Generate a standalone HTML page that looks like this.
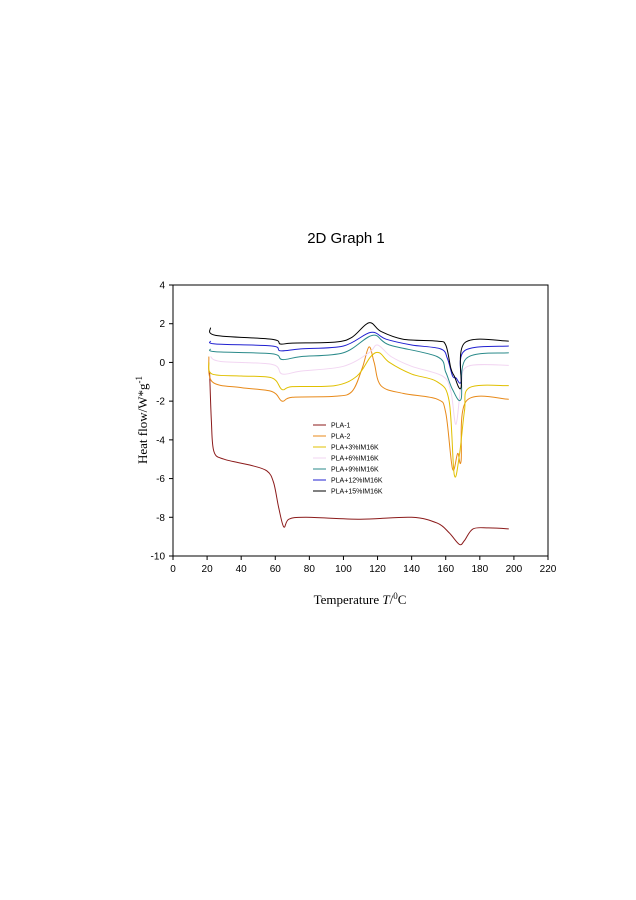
<!DOCTYPE html>
<html><head><meta charset="utf-8"><style>
html,body{margin:0;padding:0;background:#fff;}
svg{display:block;font-family:"Liberation Sans",sans-serif;}
</style></head><body>
<svg id="chart" width="636" height="900">
<text x="346" y="243" font-size="15" text-anchor="middle">2D Graph 1</text>
<rect x="173" y="285" width="375" height="271" fill="none" stroke="#000" stroke-width="1"/>
<g id="axes"></g>
<g id="series"></g>
<g id="legend"></g>
<text transform="translate(147,420) rotate(-90)" font-family="Liberation Serif,serif" font-size="13" text-anchor="middle">Heat flow/W*g<tspan dy="-5" font-size="9">-1</tspan></text>
<text x="360" y="604" font-family="Liberation Serif,serif" font-size="13" text-anchor="middle">Temperature <tspan font-style="italic">T</tspan>/<tspan dy="-5" font-size="9">0</tspan><tspan dy="5">C</tspan></text>
</svg>
<script>
const xTicks=[0,20,40,60,80,100,120,140,160,180,200,220];
const yTicks=[4,2,0,-2,-4,-6,-8,-10];
const seriesNames=["PLA-1","PLA-2","PLA+3%IM16K","PLA+6%IM16K","PLA+9%IM16K","PLA+12%IM16K","PLA+15%IM16K"];
const seriesColors=["#8b1a1a","#e88a1a","#e0c000","#f2d6f2","#2a8a8a","#2020d0","#000000"];
const tPLA1=[21.5,22.5,24,30,45,55,59,62,65,68,78,110,140,155,162,168,171,176,185,197];
const vPLA1=[-0.5,-3,-4.6,-5.0,-5.3,-5.6,-6.2,-7.5,-8.5,-8.1,-8.0,-8.1,-8.0,-8.3,-8.8,-9.4,-9.2,-8.6,-8.55,-8.6];
const tPLA2=[21,23,40,58,64,70,95,105,111,115,118,122,135,155,160,164,167,169,172,197];
const vPLA2=[0.3,-1.0,-1.3,-1.5,-2.0,-1.8,-1.75,-1.5,-0.3,0.8,0.0,-1.2,-1.6,-1.9,-2.6,-5.5,-4.7,-5.1,-2.0,-1.9];
const t3=[21,23,40,58,64,70,95,108,116,121,127,140,155,162,165,168,171,174,197];
const v3=[0,-0.6,-0.7,-0.8,-1.4,-1.25,-1.2,-0.7,0.3,0.5,0.0,-0.6,-1.0,-2.0,-5.8,-4.8,-2.5,-1.3,-1.2];
const t6=[22,28,58,64,75,100,115,120,128,140,158,163,166,169,173,197];
const v6=[0.3,0.05,-0.1,-0.6,-0.45,-0.2,0.5,0.9,0.3,-0.2,-0.7,-1.5,-3.2,-1.2,-0.2,-0.15];
const t9=[22,25,58,64,75,100,117,127,155,160,164,169,172,197];
const v9=[0.7,0.55,0.45,0.15,0.3,0.5,1.4,0.9,0.3,-0.5,-1.4,-1.9,0.2,0.5];
const t12=[22,25,58,63,75,100,116,125,140,157,161,164,166,169,171,197];
const v12=[1.1,0.95,0.85,0.6,0.7,0.85,1.55,1.2,0.9,0.7,0.2,-0.7,-0.8,-1.0,0.6,0.85];
const t15=[22,25,58,63,70,95,105,115,122,135,155,160,163,165,169,171,197];
const v15=[1.8,1.4,1.2,0.95,1.0,1.05,1.3,2.05,1.6,1.2,1.1,0.9,-0.3,-0.7,-1.3,1.0,1.1];
const allT=[tPLA1,tPLA2,t3,t6,t9,t12,t15];
const allV=[vPLA1,vPLA2,v3,v6,v9,v12,v15];
const X0=173,X1=548,Y0=556,Y1=285;
const sx=v=>X0+(v-0)/(220-0)*(X1-X0);
const sy=v=>Y0-(v-(-10))/(4-(-10))*(Y0-Y1);
const NS="http://www.w3.org/2000/svg";
const axes=document.getElementById('axes');
function mk(tag,attrs,parent){const e=document.createElementNS(NS,tag);for(const k in attrs)e.setAttribute(k,attrs[k]);parent.appendChild(e);return e;}
xTicks.forEach(t=>{
  const l=mk('line',{x1:sx(t),x2:sx(t),y1:Y0,y2:Y0+4,stroke:'#000'},axes);
  
  
  const tx=mk('text',{x:sx(t),y:Y0+16,'font-size':10,'text-anchor':'middle'},axes);
  tx.textContent=t;
  
  
});
yTicks.forEach(t=>{
  const l=mk('line',{x1:X0-4,x2:X0,y1:sy(t),y2:sy(t),stroke:'#000'},axes);
  
  
  const tx=mk('text',{x:X0-8,y:sy(t)+3.5,'font-size':10,'text-anchor':'end'},axes);
  tx.textContent=t;
  
  
});
function path(ts,vs){
  const p=ts.map((t,i)=>[sx(t),sy(vs[i])]);
  let d='M'+p[0][0].toFixed(1)+','+p[0][1].toFixed(1);
  for(let i=0;i<p.length-1;i++){
    const a=p[i-1]||p[i],b=p[i],c=p[i+1],e=p[i+2]||c;
    const c1=[b[0]+(c[0]-a[0])/6,b[1]+(c[1]-a[1])/6],c2=[c[0]-(e[0]-b[0])/6,c[1]-(e[1]-b[1])/6];
    d+=' C'+c1.join(',')+' '+c2.join(',')+' '+c[0]+','+c[1];
  }
  return d;
}
const sg=document.getElementById('series');
allT.forEach((ts,i)=>{
  const p=mk('path',{d:path(ts,allV[i]),fill:'none',stroke:seriesColors[i],'stroke-width':1},sg);
  
  
});
const lg=document.getElementById('legend');
seriesNames.forEach((n,i)=>{
  const y=425+i*11;
  const l=mk('line',{x1:313,x2:326,y1:y,y2:y,stroke:seriesColors[i],'stroke-width':1},lg);
  
  
  const t=mk('text',{x:331,y:y+2.5,'font-size':7},lg);
  t.textContent=n;
  
  
});
</script>
</body></html>
